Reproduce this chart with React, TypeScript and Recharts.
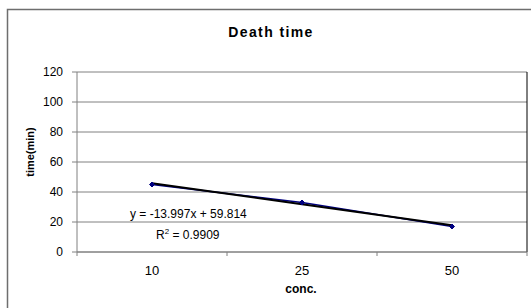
import React from "react";
import { ComposedChart, Line, XAxis, YAxis, CartesianGrid, ReferenceLine } from "recharts";

// conc. categories and measured death time (min)
const concLabels = ["10", "25", "50"];
const deathTime = [45, 33, 17];
// linear trendline values as drawn (y = -13.997x + 59.814)
const trendTime = [45.8, 31.8, 17.8];
const yTicks = [0, 20, 40, 60, 80, 100, 120];
const xTicks = [0.5, 1, 1.5, 2, 2.5, 3, 3.5];

const FONT = "'Liberation Sans', Arial, sans-serif";

const data = concLabels.map((c, i) => ({
  idx: i + 1,
  conc: c,
  time: deathTime[i],
  trend: trendTime[i],
}));

function XTick(props: any) {
  const { x, y, payload } = props;
  const v = payload.value;
  if (Number.isInteger(v)) {
    return (
      <text x={x} y={y + 23} textAnchor="middle" fontSize={13} fontFamily={FONT} fill="#000">
        {concLabels[v - 1]}
      </text>
    );
  }
  return <line x1={x} x2={x} y1={y} y2={y + 4} stroke="#808080" strokeWidth={1} />;
}

function Diamond(props: any) {
  const { cx, cy } = props;
  if (cx == null || cy == null) return null;
  const s = 2.5;
  return (
    <polygon
      points={`${cx},${cy - s} ${cx + s},${cy} ${cx},${cy + s} ${cx - s},${cy}`}
      fill="#000080"
      stroke="#000080"
    />
  );
}

export default function App() {
  return (
    <div style={{ position: "fixed", left: 0, top: 0, width: 531, height: 308, background: "#fff" }}>
      <ComposedChart
        width={531}
        height={308}
        data={data}
        margin={{ top: 72, right: 4, bottom: 0, left: 0 }}
      >
        <CartesianGrid vertical={false} stroke="#808080" strokeWidth={1} />
        <XAxis
          dataKey="idx"
          type="number"
          domain={[0.5, 3.5]}
          ticks={xTicks}
          interval={0}
          tick={<XTick />}
          tickLine={false}
          tickSize={0}
          tickMargin={0}
          height={56}
          axisLine={{ stroke: "#808080" }}
        />
        <YAxis
          domain={[0, 120]}
          ticks={yTicks}
          width={77}
          tickSize={5}
          tickMargin={9}
          interval={0}
          tick={{ fontSize: 12, fontFamily: FONT, fill: "#000" }}
          tickLine={{ stroke: "#808080" }}
          axisLine={{ stroke: "#808080" }}
        />
        <ReferenceLine x={3.5} stroke="#000" strokeWidth={1} />
        <Line
          dataKey="time"
          stroke="#000080"
          strokeWidth={1.5}
          dot={<Diamond />}
          isAnimationActive={false}
        />
        <Line
          dataKey="trend"
          stroke="#000"
          strokeWidth={2}
          dot={false}
          isAnimationActive={false}
        />
      </ComposedChart>
      <svg
        width={531}
        height={308}
        style={{ position: "absolute", left: 0, top: 0, pointerEvents: "none" }}
      >
        <path d="M7.5 308 V9.5 H531" fill="none" stroke="#6e6e6e" strokeWidth={1.5} />
        <text x={271} y={37} textAnchor="middle" fontSize={14} fontWeight="bold" letterSpacing={1.4} fontFamily={FONT} fill="#000">
          Death time
        </text>
        <text
          x={0}
          y={0}
          transform="translate(34,152) rotate(-90)"
          textAnchor="middle"
          fontSize={11}
          fontWeight="bold"
          fontFamily={FONT}
          fill="#000"
        >
          time(min)
        </text>
        <text x={301} y={293} textAnchor="middle" fontSize={12} fontWeight="bold" fontFamily={FONT} fill="#000">
          conc.
        </text>
        <text x={130} y={218} fontSize={12} fontFamily={FONT} fill="#000">
          y = -13.997x + 59.814
        </text>
        <text x={156} y={239} fontSize={12} fontFamily={FONT} fill="#000">
          R<tspan dy={-5} fontSize={8}>2</tspan>
          <tspan dy={5}> = 0.9909</tspan>
        </text>
      </svg>
    </div>
  );
}
